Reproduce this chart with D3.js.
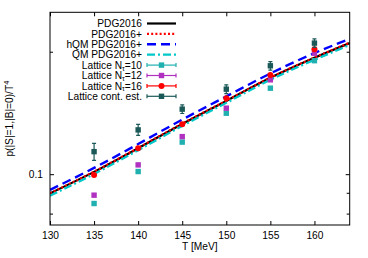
<!DOCTYPE html>
<html><head><meta charset="utf-8">
<script src="https://cdn.jsdelivr.net/npm/d3@7"></script>
<style>body{margin:0;background:#fff}svg{display:block;font-family:"Liberation Sans",Arial,sans-serif}</style>
</head><body><svg id="c" width="368" height="258"></svg>
<script>
// ---- data ----
const lineT = [130, 135, 140, 145, 150, 155, 160, 164];
const pdg2016 = [0.0897, 0.1013, 0.1158, 0.1329, 0.1514, 0.1725, 0.1932, 0.2100];
const pdg2016p = [0.0898, 0.1014, 0.1160, 0.1331, 0.1516, 0.1727, 0.1935, 0.2105];
const hqm = [0.0915, 0.1036, 0.1186, 0.1362, 0.1553, 0.1768, 0.1985, 0.2150];
const qm = [0.0885, 0.1001, 0.1145, 0.1314, 0.1497, 0.1706, 0.1910, 0.2077];
const latT = [135, 140, 145, 150, 155, 160];
const nt10 = [0.0847, 0.1015, 0.1199, 0.1412, 0.1627, 0.1901];
const nt10err = [0.0005, 0.0005, 0.0005, 0.0006, 0.0006, 0.0007];
const nt12 = [0.0888, 0.1054, 0.1237, 0.1453, 0.1706, 0.1983];
const nt12err = [0.0005, 0.0005, 0.0005, 0.0006, 0.0006, 0.0007];
const nt16 = [0.0995, 0.1158, 0.1327, 0.1537, 0.1754, 0.2028];
const nt16err = [0.0006, 0.0006, 0.0006, 0.0007, 0.0007, 0.0008];
const cont = [0.1136, 0.1285, 0.1445, 0.1618, 0.1847, 0.2100];
const contErr = [0.0055, 0.004, 0.0035, 0.004, 0.0045, 0.005];
const xTicks = [130, 135, 140, 145, 150, 155, 160];
const yMajor = [0.1];
const yMinor = [0.08, 0.09, 0.2];
const xLabel = "T [MeV]";
const yLabel = "p(|S|=1,|B|=0)/T";

// ---- layout ----
const L = 50, R = 349.7, T = 12.3, B = 225;
const svg = d3.select("#c");
const x = d3.scaleLinear().domain([130, 164]).range([L, R]);
const y = d3.scaleLog().domain([0.075, 0.25]).range([B, T]);
const fs = 10.2;

svg.append("clipPath").attr("id", "cl").append("rect")
  .attr("x", L).attr("y", T).attr("width", R - L).attr("height", B - T);

// axes
const axB = svg.append("g").attr("transform", `translate(0,${B})`)
  .call(d3.axisBottom(x).tickValues(xTicks).tickSize(-4).tickPadding(7).tickFormat(d3.format("d")));
const axT = svg.append("g").attr("transform", `translate(0,${T})`)
  .call(d3.axisTop(x).tickValues(xTicks).tickSize(-4).tickFormat(""));
const axL = svg.append("g").attr("transform", `translate(${L},0)`)
  .call(d3.axisLeft(y).tickValues(yMajor).tickSize(-4).tickPadding(7).tickFormat(d3.format(".1f")));
const axLm = svg.append("g").attr("transform", `translate(${L},0)`)
  .call(d3.axisLeft(y).tickValues(yMinor).tickSize(-3).tickFormat(""));
const axR = svg.append("g").attr("transform", `translate(${R},0)`)
  .call(d3.axisRight(y).tickValues(yMajor).tickSize(-4).tickFormat(""));
const axRm = svg.append("g").attr("transform", `translate(${R},0)`)
  .call(d3.axisRight(y).tickValues(yMinor).tickSize(-3).tickFormat(""));
[axB, axT, axL, axLm, axR, axRm].forEach(g => {
  g.select(".domain").remove();
  g.selectAll("line").attr("stroke", "#000").attr("stroke-width", 1);
  g.selectAll("text").attr("font-size", fs).attr("font-family", "Liberation Sans, Arial, sans-serif").attr("fill", "#000");
});

// lines
const series = [
  {name: "PDG2016", v: pdg2016, color: "#000000", dash: null, w: 2.2},
  {name: "PDG2016+", v: pdg2016p, color: "#ff0000", dash: "2,2.2", w: 2.2},
  {name: "hQM PDG2016+", v: hqm, color: "#0000ff", dash: "9,5", w: 2.4},
  {name: "QM PDG2016+", v: qm, color: "#00c8c8", dash: "8,3,2,3", w: 2.2}
];
const lineGen = d3.line().x((d, i) => x(lineT[i])).y(d => y(d)).curve(d3.curveMonotoneX);
const gl = svg.append("g").attr("clip-path", "url(#cl)");
series.forEach(s => {
  gl.append("path").attr("d", lineGen(s.v)).attr("fill", "none")
    .attr("stroke", s.color).attr("stroke-width", s.w)
    .attr("stroke-dasharray", s.dash);
});

// points
const pts = [
  {name: "Lattice N", sub: "τ", rest: "=10", v: nt10, e: nt10err, color: "#20b0b0", shape: "sq"},
  {name: "Lattice N", sub: "τ", rest: "=12", v: nt12, e: nt12err, color: "#b030c0", shape: "sq"},
  {name: "Lattice N", sub: "τ", rest: "=16", v: nt16, e: nt16err, color: "#ff0000", shape: "ci"},
  {name: "Lattice cont. est.", sub: null, rest: "", v: cont, e: contErr, color: "#1b5959", shape: "sq"}
];
function marker(g, cx, cy, p) {
  if (p.shape === "sq") g.append("rect").attr("x", cx - 2.7).attr("y", cy - 2.7).attr("width", 5.4).attr("height", 5.4).attr("fill", p.color);
  else g.append("circle").attr("cx", cx).attr("cy", cy).attr("r", 3).attr("fill", p.color);
}
const gp = svg.append("g").attr("clip-path", "url(#cl)");
pts.forEach(p => {
  latT.forEach((t, i) => {
    const cx = x(t), y1 = y(p.v[i] + p.e[i]), y0 = y(p.v[i] - p.e[i]);
    gp.append("line").attr("x1", cx).attr("x2", cx).attr("y1", y1).attr("y2", y0).attr("stroke", p.color).attr("stroke-width", 1.2);
    [y1, y0].forEach(yy => gp.append("line").attr("x1", cx - 2).attr("x2", cx + 2).attr("y1", yy).attr("y2", yy).attr("stroke", p.color).attr("stroke-width", 1.2));
    marker(gp, cx, y(p.v[i]), p);
  });
});

// frame
svg.append("rect").attr("x", L).attr("y", T).attr("width", R - L).attr("height", B - T)
  .attr("fill", "none").attr("stroke", "#000").attr("stroke-width", 1);

// legend
const lg = svg.append("g");
const ly0 = 23.5, lstep = 10.4, tx = 142, sx0 = 147, sx1 = 176;
series.forEach((s, i) => {
  const yy = ly0 + i * lstep;
  lg.append("text").attr("x", tx).attr("y", yy + 3.6).attr("text-anchor", "end").attr("font-size", fs).text(s.name);
  lg.append("line").attr("x1", sx0).attr("x2", sx1).attr("y1", yy).attr("y2", yy)
    .attr("stroke", s.color).attr("stroke-width", s.w).attr("stroke-dasharray", s.dash);
});
pts.forEach((p, j) => {
  const yy = ly0 + (j + 4) * lstep;
  const t = lg.append("text").attr("x", tx).attr("y", yy + 3.6).attr("text-anchor", "end").attr("font-size", fs);
  t.append("tspan").text(p.name);
  if (p.sub) {
    t.append("tspan").attr("font-size", 6.8).attr("dy", 1.8).text(p.sub);
    t.append("tspan").attr("dy", -1.8).text(p.rest);
  }
  lg.append("line").attr("x1", sx0).attr("x2", sx1).attr("y1", yy).attr("y2", yy).attr("stroke", p.color).attr("stroke-width", 1.2);
  [sx0, sx1].forEach(xx => lg.append("line").attr("x1", xx).attr("x2", xx).attr("y1", yy - 2).attr("y2", yy + 2).attr("stroke", p.color).attr("stroke-width", 1.2));
  marker(lg, (sx0 + sx1) / 2, yy, p);
});

// axis labels
svg.append("text").attr("x", (L + R) / 2).attr("y", 250).attr("text-anchor", "middle").attr("font-size", fs).text(xLabel);
const yl = svg.append("text").attr("transform", `translate(13,${(T + B) / 2}) rotate(-90)`).attr("text-anchor", "middle").attr("font-size", fs);
yl.append("tspan").text(yLabel);
yl.append("tspan").attr("font-size", 7.5).attr("dy", -4).text("4");
</script></body></html>
